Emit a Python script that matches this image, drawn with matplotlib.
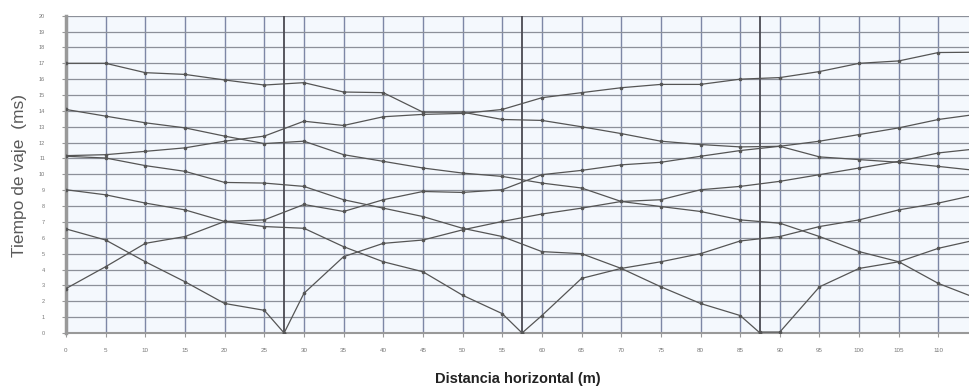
import matplotlib
matplotlib.use("Agg")
import matplotlib.pyplot as plt

plt.rcParams['font.family'] = ['Liberation Sans', 'DejaVu Sans']

# geophone positions (m) and shot positions
geophones = [0, 5, 10, 15, 20, 25, 30, 35, 40, 45, 50, 55, 60, 65, 70, 75, 80, 85, 90, 95, 100, 105, 110]
shots = [27.5, 57.5, 87.5]
x_tick_labels = [str(v) for v in geophones]
y_ticks = list(range(0, 21))

# far-left forward shot
x_fl = geophones + [115]
t_fl = [11.18, 11.24, 11.45, 11.67, 12.09, 12.41, 13.35, 13.08, 13.63, 13.78, 13.84, 14.09,
        14.83, 15.15, 15.46, 15.67, 15.67, 16.0, 16.1, 16.48, 17.0, 17.15, 17.68, 17.7]
# far-right reverse shot
x_fr = geophones + [115]
t_fr = [17.0, 17.0, 16.41, 16.3, 15.95, 15.63, 15.78, 15.19, 15.15, 13.92, 13.92, 13.46,
        13.4, 13.0, 12.57, 12.09, 11.88, 11.73, 11.77, 11.1, 10.93, 10.76, 10.5, 10.23]
# left end shot (forward)
x_s0 = geophones + [115]
t_s0 = [2.8, 4.18, 5.65, 6.08, 7.03, 7.13, 8.1, 7.66, 8.4, 8.92, 8.86, 9.03,
        9.98, 10.25, 10.6, 10.76, 11.14, 11.5, 11.77, 12.09, 12.51, 12.93, 13.46, 13.8]
# right end shot (reverse)
x_s4 = geophones + [115]
t_s4 = [14.09, 13.67, 13.25, 12.93, 12.41, 11.94, 12.09, 11.24, 10.82, 10.4, 10.08, 9.87,
        9.45, 9.14, 8.29, 7.97, 7.66, 7.13, 6.92, 6.08, 5.13, 4.49, 3.12, 2.15]
# shot at 27.5 m
x_s1_left = [0, 5, 10, 15, 20, 25, 27.5]
t_s1_left = [6.56, 5.86, 4.49, 3.23, 1.86, 1.43, 0.0]
x_s1_right = [27.5, 30, 35, 40, 45, 50, 55, 60, 65, 70, 75, 80, 85, 90, 95, 100, 105, 110, 115]
t_s1_right = [0.0, 2.5, 4.81, 5.65, 5.86, 6.5, 7.03, 7.5, 7.87, 8.29, 8.4, 9.03, 9.24,
              9.56, 9.98, 10.4, 10.82, 11.35, 11.62]
# shot at 57.5 m
x_s2_left = [0, 5, 10, 15, 20, 25, 30, 35, 40, 45, 50, 55, 57.5]
t_s2_left = [9.03, 8.71, 8.19, 7.76, 7.03, 6.71, 6.6, 5.44, 4.49, 3.86, 2.38, 1.22, 0.0]
x_s2_right = [57.5, 60, 65, 70, 75, 80, 85, 90, 95, 100, 105, 110, 115]
t_s2_right = [0.0, 1.1, 3.44, 4.07, 4.49, 5.0, 5.8, 6.08, 6.71, 7.13, 7.76, 8.19, 8.74]
# shot at 87.5 m
x_s3_left = [0, 5, 10, 15, 20, 25, 30, 35, 40, 45, 50, 55, 60, 65, 70, 75, 80, 85, 87.5]
t_s3_left = [11.14, 11.03, 10.55, 10.19, 9.49, 9.45, 9.24, 8.4, 7.87, 7.34, 6.6, 6.08,
             5.13, 5.0, 4.07, 2.91, 1.86, 1.1, 0.0]
x_s3_right = [87.5, 90, 95, 100, 105, 110, 115]
t_s3_right = [0.06, 0.06, 2.91, 4.07, 4.49, 5.34, 5.9]

curves = [(x_fl, t_fl), (x_fr, t_fr), (x_s0, t_s0), (x_s4, t_s4),
          (x_s1_left, t_s1_left), (x_s1_right, t_s1_right),
          (x_s2_left, t_s2_left), (x_s2_right, t_s2_right),
          (x_s3_left, t_s3_left), (x_s3_right, t_s3_right)]

fig = plt.figure(figsize=(9.69, 3.89), dpi=100)
ax = fig.add_axes([0.0681, 0.144, 0.9319, 0.8156])
ax.set_facecolor('#f4f8fd')

for g in geophones:
    ax.axvline(g, color='#7d87a6', lw=1.0, zorder=1)
for t in y_ticks:
    ax.axhline(t, color='#8c9099', lw=0.9, zorder=1)
for s in shots:
    ax.axvline(s, color='#4a4a52', lw=1.3, zorder=2)

for xs, ts in curves:
    ax.plot(xs, ts, color='#555555', lw=0.9, marker='o', ms=1.6, zorder=3)

ax.set_xlim(0, 113.85)
ax.set_ylim(0, 20)
ax.set_xticks(geophones)
ax.set_xticklabels(x_tick_labels, fontsize=4.5, color='#777777')
ax.set_yticks(y_ticks)
ax.set_yticklabels([str(v) for v in y_ticks], fontsize=4, color='#777777')
ax.tick_params(axis='x', length=3, color='#999999', pad=8)
ax.tick_params(axis='y', length=3, color='#999999', pad=12)

for side in ['top', 'right']:
    ax.spines[side].set_visible(False)
ax.spines['left'].set_color('#999999')
ax.spines['left'].set_linewidth(2.5)
ax.spines['bottom'].set_color('#999999')
ax.spines['bottom'].set_linewidth(1.5)

fig.text(0.02, 0.55, 'Tiempo de vaje  (ms)', rotation=90, ha='center', va='center',
         fontsize=12.5, color='#5a5a5a')
fig.text(0.534, 0.008, 'Distancia horizontal (m)', ha='center', va='bottom',
         fontsize=10.5, fontweight='bold', color='#222222')

fig.savefig('out.png', dpi=100)
